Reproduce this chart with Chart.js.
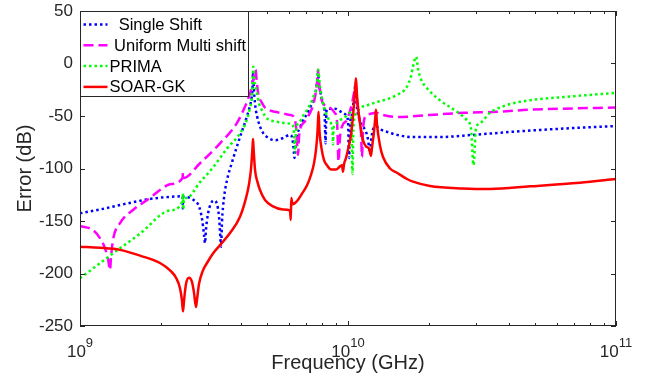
<!DOCTYPE html>
<html>
<head>
<meta charset="utf-8">
<script src="https://cdn.jsdelivr.net/npm/chart.js@4.4.1/dist/chart.umd.min.js"></script>
<style>
  html, body { margin: 0; padding: 0; background: #fff; }
  #wrap { width: 648px; height: 380px; }
</style>
</head>
<body>
<div id="wrap"><canvas id="errChart" width="648" height="380"></canvas></div>
<script>
// Valores: frequência (Hz) e erro (dB)
const singleFreq = [1.000e9, 1.188e9, 1.410e9, 1.825e9, 2.167e9, 2.413e9, 2.419e9, 2.429e9, 2.573e9, 2.685e9,
  2.780e9, 2.853e9, 2.902e9, 2.927e9, 2.952e9, 3.004e9, 3.083e9, 3.162e9, 3.245e9, 3.302e9,
  3.330e9, 3.359e9, 3.388e9, 3.446e9, 3.536e9, 3.682e9, 3.954e9, 4.189e9, 4.309e9, 4.372e9,
  4.403e9, 4.422e9, 4.449e9, 4.498e9, 4.576e9, 4.695e9, 4.817e9, 4.985e9, 5.341e9, 5.721e9,
  6.077e9, 6.180e9, 6.261e9, 6.315e9, 6.369e9, 6.435e9, 6.622e9, 6.794e9, 7.032e9, 7.215e9,
  7.404e9, 7.565e9, 7.663e9, 7.729e9, 7.796e9, 7.932e9, 8.068e9, 8.173e9, 8.208e9, 8.243e9,
  8.279e9, 8.315e9, 8.423e9, 8.923e9, 9.417e9, 9.830e9, 1.000e10, 1.009e10, 1.017e10, 1.035e10,
  1.053e10, 1.062e10, 1.071e10, 1.080e10, 1.109e10, 1.137e10, 1.167e10, 1.187e10, 1.208e10, 1.218e10,
  1.239e10, 1.272e10, 1.328e10, 1.435e10, 1.523e10, 1.748e10, 2.204e10, 2.927e10, 4.128e10, 6.342e10, 1.000e11]
const singleErr = [-142.7, -139, -134.8, -129, -127, -126.5, -138, -127, -128, -131,
  -136, -148, -163, -171, -158, -143, -133, -130.5, -134, -146,
  -160, -174.5, -150, -128, -111, -95, -70, -51, -40, -32,
  -22, -8, -22, -38, -50, -60, -66, -70, -73, -71,
  -68, -70, -80, -90, -80, -70, -61, -54, -48, -42,
  -36, -28, -18, -9, -20, -30, -38, -45, -60, -76,
  -60, -45, -43, -43, -46, -49, -55, -90, -60, -48,
  -32, -22, -32, -42, -55, -60, -65, -72, -85, -75,
  -63, -60, -63, -66, -68, -70, -70, -68, -65, -62, -59.5]

const multiFreq = [1.000e9, 1.118e9, 1.188e9, 1.240e9, 1.272e9, 1.294e9, 1.305e9, 1.328e9, 1.410e9, 1.577e9,
  1.825e9, 1.988e9, 2.167e9, 2.413e9, 2.423e9, 2.434e9, 2.804e9, 3.330e9, 3.843e9, 4.128e9,
  4.309e9, 4.433e9, 4.518e9, 4.576e9, 4.635e9, 4.763e9, 4.901e9, 5.030e9, 5.341e9, 5.576e9,
  6.077e9, 6.234e9, 6.397e9, 6.509e9, 6.565e9, 6.622e9, 6.911e9, 7.215e9, 7.404e9, 7.533e9,
  7.663e9, 7.729e9, 7.796e9, 7.979e9, 8.208e9, 8.423e9, 8.923e9, 9.101e9, 9.219e9, 9.336e9,
  9.579e9, 9.830e9, 1.009e10, 1.035e10, 1.053e10, 1.067e10, 1.080e10, 1.099e10, 1.118e10, 1.128e10,
  1.137e10, 1.157e10, 1.208e10, 1.272e10, 1.351e10, 1.523e10, 2.023e10, 2.686e10, 3.597e10, 4.777e10,
  6.342e10, 1.000e11]
const multiErr = [-154.8, -158.6, -166.5, -176, -186, -196.7, -185, -168, -152, -139.5,
  -128, -120.5, -115, -109, -104, -109, -95, -76, -57, -41,
  -28.4, -15.7, -6, -20, -30, -37, -42, -44, -46, -47,
  -49, -50, -60, -87, -70, -63, -55, -47, -40, -31.6,
  -18, -6, -18, -35, -40, -41, -47, -55, -93.5, -70,
  -58, -55, -48, -38, -28, -20, -35, -50, -65, -89,
  -65, -51, -48, -47, -49, -51, -49, -47, -46, -44,
  -43, -42]

const primaFreq = [1.000e9, 1.294e9, 1.675e9, 2.167e9, 2.413e9, 2.419e9, 2.429e9, 2.440e9, 2.501e9, 2.804e9,
  3.135e9, 3.536e9, 3.954e9, 4.189e9, 4.309e9, 4.372e9, 4.403e9, 4.433e9, 4.460e9, 4.498e9,
  4.564e9, 4.655e9, 4.763e9, 4.901e9, 5.030e9, 5.576e9, 5.922e9, 6.180e9, 6.287e9, 6.342e9,
  6.397e9, 6.622e9, 6.794e9, 7.032e9, 7.321e9, 7.468e9, 7.644e9, 7.749e9, 7.829e9, 7.932e9,
  8.138e9, 8.423e9, 8.643e9, 8.755e9, 8.793e9, 8.831e9, 9.023e9, 9.336e9, 9.745e9, 1.017e10,
  1.030e10, 1.039e10, 1.048e10, 1.071e10, 1.118e10, 1.187e10, 1.272e10, 1.435e10, 1.523e10, 1.660e10,
  1.718e10, 1.748e10, 1.794e10, 1.829e10, 1.872e10, 1.972e10, 2.204e10, 2.551e10, 2.780e10, 2.877e10,
  2.940e10, 3.003e10, 3.108e10, 3.388e10, 3.921e10, 4.777e10, 6.342e10, 1.000e11]
const primaErr = [-204.6, -183, -162, -140, -131, -124, -139, -128.5, -128, -113,
  -99, -81, -66.5, -54, -42, -33, -20, -3, -15, -20,
  -27, -38, -44, -50, -53, -56, -57, -58, -66, -85,
  -64, -55, -50, -44, -36, -30, -22, -6, -18, -28,
  -42, -52, -57, -64, -77, -62, -57, -54, -51, -47,
  -56, -105, -60, -48, -42, -39.5, -37, -33, -30, -22,
  -12, -3, 6.5, -6, -15, -23.6, -35, -46, -54, -62,
  -96.7, -62, -57, -47, -39.5, -35, -32, -28]

const soarFreq = [1.000e9, 1.188e9, 1.410e9, 1.675e9, 1.988e9, 2.167e9, 2.282e9, 2.361e9, 2.402e9, 2.423e9,
  2.444e9, 2.486e9, 2.551e9, 2.617e9, 2.662e9, 2.709e9, 2.732e9, 2.780e9, 2.877e9, 2.978e9,
  3.135e9, 3.330e9, 3.629e9, 3.954e9, 4.164e9, 4.272e9, 4.347e9, 4.403e9, 4.422e9, 4.441e9,
  4.498e9, 4.596e9, 4.695e9, 4.901e9, 5.250e9, 5.721e9, 6.077e9, 6.117e9, 6.143e9, 6.207e9,
  6.452e9, 6.736e9, 7.032e9, 7.277e9, 7.468e9, 7.597e9, 7.696e9, 7.762e9, 7.829e9, 7.979e9,
  8.138e9, 8.351e9, 8.643e9, 9.023e9, 9.336e9, 9.498e9, 9.579e9, 9.663e9, 9.830e9, 1.000e10,
  1.026e10, 1.044e10, 1.062e10, 1.071e10, 1.080e10, 1.099e10, 1.118e10, 1.137e10, 1.167e10, 1.198e10,
  1.218e10, 1.229e10, 1.250e10, 1.266e10, 1.272e10, 1.283e10, 1.316e10, 1.351e10, 1.435e10, 1.523e10,
  1.660e10, 1.748e10, 2.023e10, 2.686e10, 3.388e10, 4.777e10, 7.338e10, 1.000e11]
const soarErr = [-174.5, -175.5, -177.5, -183, -190, -197, -204, -214, -226, -236,
  -226, -210, -204, -208, -218, -232, -225, -210, -197, -190,
  -181, -173, -161.5, -146, -128, -115, -100, -80, -72, -80,
  -101, -113, -120.5, -130, -136, -139, -140, -149, -128, -134,
  -131, -124, -116, -106, -95, -82, -65, -46, -65, -82,
  -92, -97, -101, -101, -98, -97, -103, -96, -90, -82,
  -68, -50, -25, -14, -30, -50, -63, -73, -79, -81,
  -88, -80, -65, -50, -44, -58, -78, -89, -100, -104,
  -110, -112.5, -116.7, -119, -119.5, -117, -113.5, -110]

const seriesLabels = ['  Single Shift', ' Uniform Multi shift', 'PRIMA', 'SOAR-GK']
const xMajorTicks = [1e9, 1e10, 1e11]
const xMinorTicks = [2e9, 3e9, 4e9, 5e9, 6e9, 7e9, 8e9, 9e9,
  2e10, 3e10, 4e10, 5e10, 6e10, 7e10, 8e10, 9e10]
const xTickBase = '10'
const xTickExponents = ['9', '10', '11']
const yTicks = [-250, -200, -150, -100, -50, 0, 50]

const AXIS_COLOR = '#262626'
const FONT = '"Liberation Sans", Arial, Helvetica, sans-serif'
Chart.defaults.font.family = FONT
Chart.defaults.color = AXIS_COLOR

const toPoints = (xs, ys) => xs.map((x, i) => ({ x: x, y: ys[i] }))

// Moldura estilo MATLAB com ticks para dentro + rótulos 10^n
const axesBox = {
  id: 'axesBox',
  afterDatasetsDraw(chart) {
    const { ctx, chartArea: a, scales: { x, y } } = chart
    ctx.save()
    ctx.strokeStyle = AXIS_COLOR
    ctx.lineWidth = 1
    ctx.setLineDash([])
    ctx.beginPath()
    xMajorTicks.concat(xMinorTicks).forEach(v => {
      const px = Math.round(x.getPixelForValue(v)) + 0.5
      const len = xMajorTicks.includes(v) ? 5 : 3
      ctx.moveTo(px, a.bottom); ctx.lineTo(px, a.bottom - len)
      ctx.moveTo(px, a.top); ctx.lineTo(px, a.top + len)
    })
    yTicks.forEach(v => {
      const py = Math.round(y.getPixelForValue(v)) + 0.5
      ctx.moveTo(a.left, py); ctx.lineTo(a.left + 5, py)
      ctx.moveTo(a.right, py); ctx.lineTo(a.right - 5, py)
    })
    ctx.stroke()
    ctx.strokeRect(a.left + 0.5, a.top + 0.5, a.right - a.left - 1, a.bottom - a.top - 1)

    // rótulos do eixo x com expoente sobrescrito
    ctx.fillStyle = AXIS_COLOR
    ctx.textBaseline = 'alphabetic'
    ctx.textAlign = 'left'
    xMajorTicks.forEach((v, i) => {
      const px = x.getPixelForValue(v)
      ctx.font = '17px ' + FONT
      const wb = ctx.measureText(xTickBase).width
      ctx.font = '13px ' + FONT
      const we = ctx.measureText(xTickExponents[i]).width
      const start = px - (wb + we) / 2
      ctx.font = '17px ' + FONT
      ctx.fillText(xTickBase, start, a.bottom + 31)
      ctx.font = '13px ' + FONT
      ctx.fillText(xTickExponents[i], start + wb, a.bottom + 21)
    })
    ctx.restore()
  }
}

// Legenda dentro da área do gráfico (canto superior esquerdo)
const boxLegend = {
  id: 'boxLegend',
  afterDraw(chart) {
    const { ctx, chartArea: a } = chart
    const x0 = a.left + 0.5, y0 = a.top + 0.5
    ctx.save()
    ctx.fillStyle = '#fff'
    ctx.fillRect(x0, y0, 168, 85)
    ctx.strokeStyle = AXIS_COLOR
    ctx.lineWidth = 1
    ctx.strokeRect(x0, y0, 168, 85)
    chart.data.datasets.forEach((ds, i) => {
      const rowY = y0 + 13 + i * 20.8
      ctx.strokeStyle = ds.borderColor
      ctx.lineWidth = ds.borderWidth
      ctx.setLineDash(ds.borderDash || [])
      ctx.beginPath()
      ctx.moveTo(x0 + 3, rowY)
      ctx.lineTo(x0 + 27, rowY)
      ctx.stroke()
      ctx.setLineDash([])
      ctx.fillStyle = '#000'
      ctx.font = '16.5px ' + FONT
      ctx.textBaseline = 'middle'
      ctx.fillText(ds.label, x0 + 29, rowY + 1)
    })
    ctx.restore()
  }
}

const ctx = document.getElementById('errChart').getContext('2d')

const errChart = new Chart(ctx, {
  type: 'line',
  data: {
    datasets: [{
      label: seriesLabels[0],
      data: toPoints(singleFreq, singleErr),
      borderColor: '#0000ff',
      borderWidth: 2.5,
      borderDash: [2.5, 3],
      order: 4
    }, {
      label: seriesLabels[1],
      data: toPoints(multiFreq, multiErr),
      borderColor: '#ff00ff',
      borderWidth: 2.5,
      borderDash: [10, 5],
      order: 3
    }, {
      label: seriesLabels[2],
      data: toPoints(primaFreq, primaErr),
      borderColor: '#00ff00',
      borderWidth: 2.5,
      borderDash: [2.5, 3],
      order: 2
    }, {
      label: seriesLabels[3],
      data: toPoints(soarFreq, soarErr),
      borderColor: '#ff0000',
      borderWidth: 2.5,
      order: 1
    }]
  },
  options: {
    responsive: false,
    devicePixelRatio: 1,
    animation: false,
    elements: {
      point: { radius: 0 },
      line: { cubicInterpolationMode: 'monotone', borderCapStyle: 'butt', fill: false }
    },
    layout: { padding: { top: 11, right: 32, bottom: 0, left: 0 } },
    scales: {
      x: {
        type: 'logarithmic',
        min: 1e9,
        max: 1e11,
        grid: { display: false, drawTicks: false },
        border: { display: false },
        afterBuildTicks: (scale) => {
          scale.ticks = xMajorTicks.concat(xMinorTicks).sort((p, q) => p - q).map(v => ({ value: v }))
        },
        afterFit: (scale) => {
          scale.height = 54
          scale.paddingLeft = 0
          scale.paddingRight = 0
        },
        ticks: { display: false },
        title: {
          display: true,
          text: 'Frequency (GHz)',
          font: { size: 20 },
          padding: { top: 0, bottom: 5 }
        }
      },
      y: {
        min: -250,
        max: 50,
        grid: { display: false, drawTicks: false },
        border: { display: false },
        afterBuildTicks: (scale) => {
          scale.ticks = yTicks.map(v => ({ value: v }))
        },
        afterFit: (scale) => {
          scale.width = 80
          scale.paddingTop = 0
          scale.paddingBottom = 0
        },
        ticks: {
          padding: 7,
          font: { size: 17 },
          callback: (v) => String(v)
        },
        title: {
          display: true,
          text: 'Error (dB)',
          font: { size: 20 },
          padding: { top: 13, bottom: 0 }
        }
      }
    },
    plugins: {
      legend: { display: false },
      tooltip: { enabled: false }
    }
  },
  plugins: [axesBox, boxLegend]
})
</script>
</body>
</html>
